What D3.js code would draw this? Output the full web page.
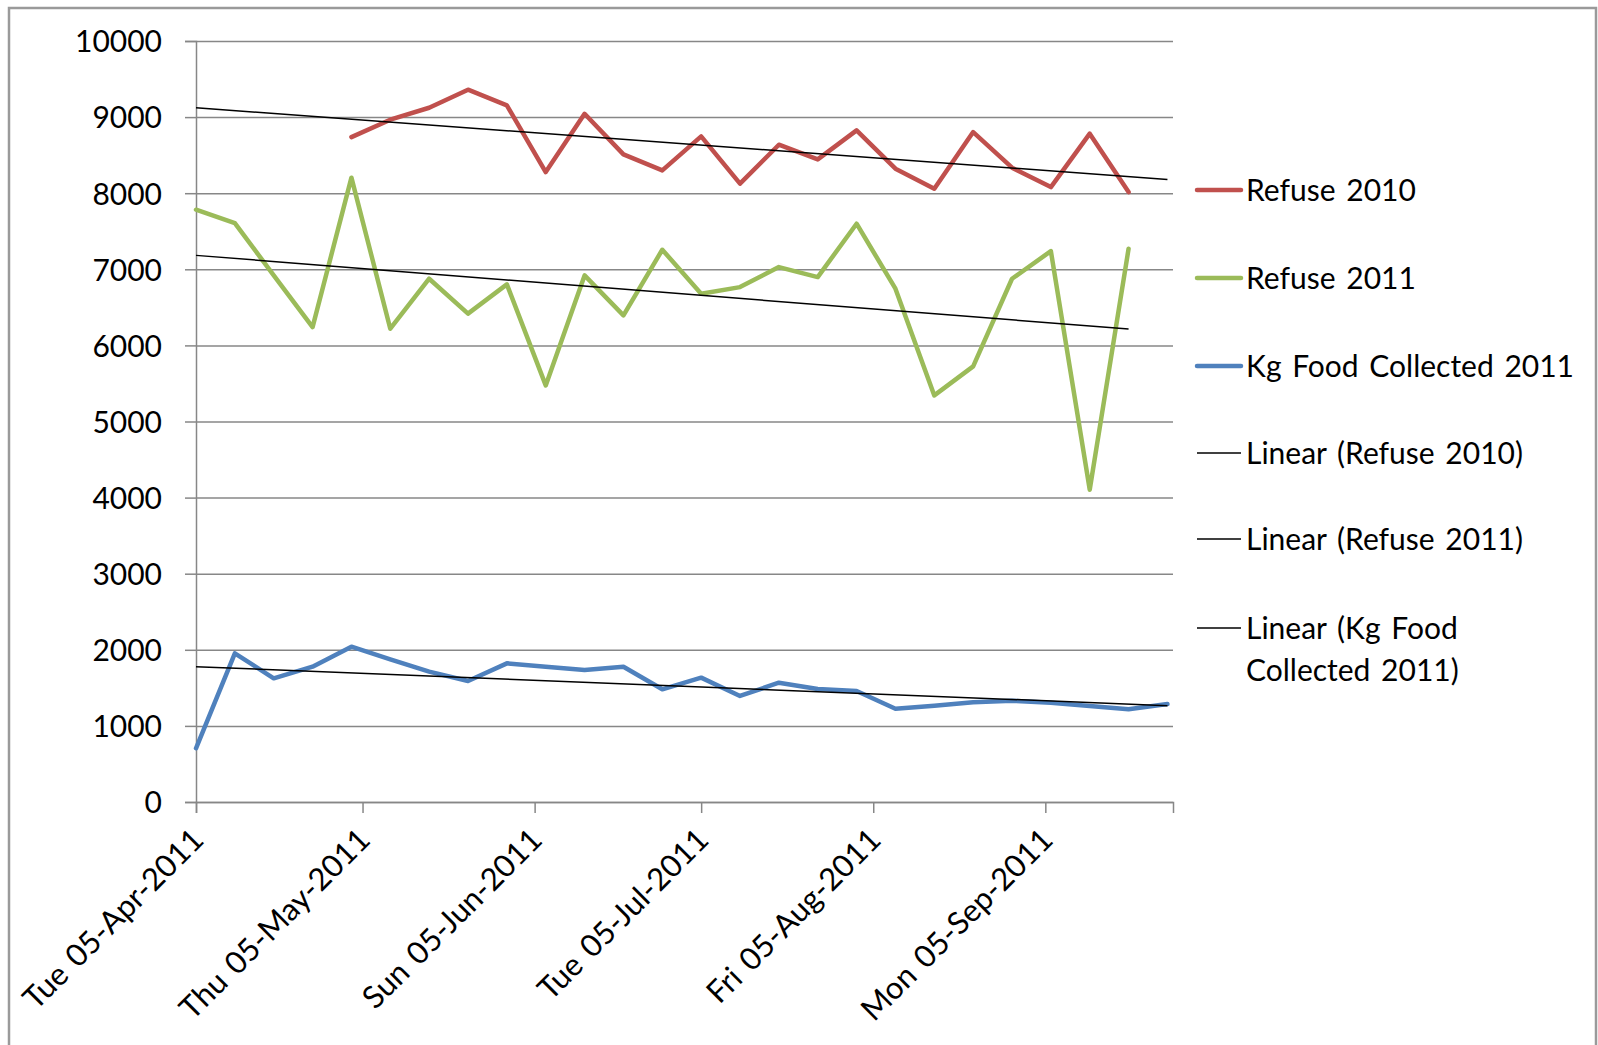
<!DOCTYPE html>
<html lang="en">
  <head>
    <meta charset="UTF-8" />
    <title>Refuse and food collected 2011</title>
    <script src="https://d3js.org/d3.v7.min.js"></script>
    <style>
      body {
        margin: 0;
        background: #fff;
      }
      * {
        font-family: Lato, "Open Sans", sans-serif;
      }
      .axis text {
        font-size: 30px;
        fill: #000;
      }
      .axis.x text {
        font-size: 31px;
        word-spacing: 3px;
      }
      .legend text {
        font-size: 30px;
        word-spacing: 3px;
        fill: #000;
      }
    </style>
  </head>
  <body></body>
  <script>
    // weekly collection dates (Tuesdays)
    const weeks = [
      "2011-04-05", "2011-04-12", "2011-04-19", "2011-04-26", "2011-05-03",
      "2011-05-10", "2011-05-17", "2011-05-24", "2011-05-31", "2011-06-07",
      "2011-06-14", "2011-06-21", "2011-06-28", "2011-07-05", "2011-07-12",
      "2011-07-19", "2011-07-26", "2011-08-02", "2011-08-09", "2011-08-16",
      "2011-08-23", "2011-08-30", "2011-09-06", "2011-09-13", "2011-09-20",
      "2011-09-27",
    ];

    const refuse2010 = [
      null, null, null, null, 8737, 8966, 9123, 9360, 9154, 8277, 9044, 8510,
      8300, 8746, 8125, 8637, 8444, 8825, 8322, 8059, 8803, 8335, 8080, 8782,
      8015,
    ];
    const refuse2011 = [
      7783, 7607, 6920, 6241, 8204, 6219, 6876, 6417, 6802, 5474, 6920, 6394,
      7257, 6679, 6766, 7029, 6898, 7599, 6745, 5343, 5724, 6876, 7239, 4104,
      7271,
    ];
    const foodKg2011 = [
      706, 1954, 1625, 1778, 2041, 1875, 1713, 1590, 1822, 1778, 1735, 1778,
      1481, 1634, 1393, 1568, 1485, 1458, 1226, 1266, 1310, 1331, 1305, 1262,
      1218, 1288,
    ];

    // linear trendlines: [start date, start value, end date, end value]
    const trend2010 = ["2011-04-05", 9123, "2011-09-27", 8181];
    const trend2011 = ["2011-04-05", 7183, "2011-09-20", 6214];
    const trendFood = ["2011-04-05", 1778, "2011-09-27", 1266];

    const xTicks = [
      "2011-04-05", "2011-05-05", "2011-06-05", "2011-07-05", "2011-08-05",
      "2011-09-05",
    ];
    const xDomain = ["2011-04-05", "2011-09-28"];
    const yTicks = [0, 1000, 2000, 3000, 4000, 5000, 6000, 7000, 8000, 9000, 10000];

    const legendNames = [
      "Refuse 2010",
      "Refuse 2011",
      "Kg Food Collected 2011",
      "Linear (Refuse 2010)",
      "Linear (Refuse 2011)",
      ["Linear (Kg Food", "Collected 2011)"],
    ];

    const parse = d3.timeParse("%Y-%m-%d");
    const fmt = d3.timeFormat("%a %d-%b-%Y");

    const colors = { red: "#C0504D", green: "#9BBB59", blue: "#4F81BD" };

    const W = 1598,
      H = 1045;
    const plotLeft = 196,
      plotRight = 1173,
      plotTop = 41,
      plotBottom = 802;

    const svg = d3
      .select("body")
      .append("svg")
      .attr("width", W)
      .attr("height", H);

    svg
      .append("rect")
      .attr("x", 9)
      .attr("y", 8)
      .attr("width", 1587)
      .attr("height", 1100)
      .attr("fill", "#fff")
      .attr("stroke", "#9a9a9a")
      .attr("stroke-width", 2.5);

    const x = d3.scaleTime().domain(xDomain.map(parse)).range([plotLeft, plotRight]);
    const y = d3.scaleLinear().domain([0, 10000]).range([plotBottom, plotTop]);

    // gridlines + y axis
    const yAxis = svg
      .append("g")
      .attr("class", "axis y")
      .attr("transform", `translate(${plotLeft},0)`)
      .call(
        d3
          .axisLeft(y)
          .tickValues(yTicks)
          .tickSize(11)
          .tickPadding(23)
          .tickFormat(d3.format("d"))
      );
    yAxis.select(".domain").attr("stroke", "#878787").attr("stroke-width", 1.5);
    yAxis.selectAll(".tick line").attr("stroke", "#878787").attr("stroke-width", 1.5);
    yAxis.selectAll(".tick text").attr("dy", "0.36em");

    yAxis
      .selectAll(".tick")
      .append("line")
      .attr("x1", 0)
      .attr("x2", plotRight - plotLeft)
      .attr("stroke", "#878787")
      .attr("stroke-width", 1.5);

    // x axis
    const xAxis = svg
      .append("g")
      .attr("class", "axis x")
      .attr("transform", `translate(0,${plotBottom})`)
      .call(
        d3
          .axisBottom(x)
          .tickValues(xTicks.map(parse))
          .tickSize(11)
          .tickFormat(fmt)
      );
    xAxis.select(".domain").attr("stroke", "#878787").attr("stroke-width", 1.5);
    xAxis.selectAll(".tick line").attr("stroke", "#878787").attr("stroke-width", 1.5);
    xAxis
      .selectAll(".tick text")
      .attr("text-anchor", "end")
      .attr("dy", "0.36em")
      .attr("y", 0)
      .attr("transform", "translate(1,32) rotate(-45)");

    // series
    const line = d3
      .line()
      .defined((d) => d[1] != null)
      .x((d) => x(parse(d[0])))
      .y((d) => y(d[1]));

    const series = [
      { values: refuse2010, color: colors.red },
      { values: refuse2011, color: colors.green },
      { values: foodKg2011, color: colors.blue },
    ];

    series.forEach(function (s) {
      svg
        .append("path")
        .datum(s.values.map((v, i) => [weeks[i], v]))
        .attr("d", line)
        .attr("fill", "none")
        .attr("stroke", s.color)
        .attr("stroke-width", 4.5)
        .attr("stroke-linejoin", "round")
        .attr("stroke-linecap", "round");
    });

    [trend2010, trend2011, trendFood].forEach(function (t) {
      svg
        .append("path")
        .datum([
          [t[0], t[1]],
          [t[2], t[3]],
        ])
        .attr("d", line)
        .attr("fill", "none")
        .attr("stroke", "#000")
        .attr("stroke-width", 1.5);
    });

    // legend
    const legendColors = [colors.red, colors.green, colors.blue, "#000", "#000", "#000"];
    const legendY = [190, 278, 366, 453, 539, 628];

    const legend = svg.append("g").attr("class", "legend");
    legendNames.forEach(function (name, i) {
      const g = legend.append("g").attr("transform", `translate(0,${legendY[i]})`);
      g.append("line")
        .attr("x1", 1197)
        .attr("x2", 1241)
        .attr("stroke", legendColors[i])
        .attr("stroke-width", i < 3 ? 4.5 : 1.5)
        .attr("stroke-linecap", i < 3 ? "round" : "butt");
      const lines = Array.isArray(name) ? name : [name];
      const txt = g.append("text");
      lines.forEach(function (l, j) {
        txt
          .append("tspan")
          .attr("x", 1246)
          .attr("dy", j === 0 ? "0.36em" : "1.4em")
          .text(l);
      });
    });
  </script>
</html>
